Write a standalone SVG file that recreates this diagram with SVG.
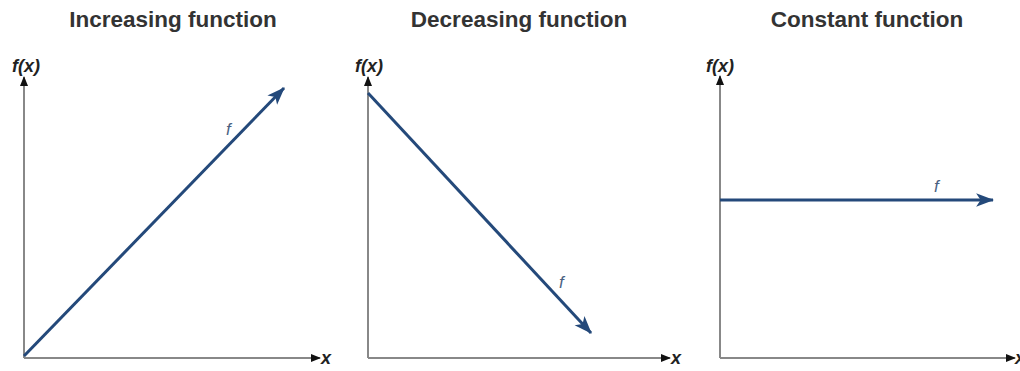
<svg xmlns="http://www.w3.org/2000/svg" width="1020" height="371" viewBox="0 0 1020 371">
<style>
.title{font-family:"Liberation Sans",Arial,sans-serif;font-weight:bold;font-size:22.5px;fill:#333;text-anchor:middle}
.fx{font-family:"Liberation Sans",Arial,sans-serif;font-weight:bold;font-style:italic;font-size:18px;fill:#222;text-anchor:middle}
.xl{font-family:"Liberation Sans",Arial,sans-serif;font-weight:bold;font-style:italic;font-size:18px;fill:#222}
.fl{font-family:"Liberation Sans",Arial,sans-serif;font-style:italic;font-size:17px;fill:#4a6282}
.axis{stroke:#888;stroke-width:2;fill:none}
.curve{stroke:#24497a;stroke-width:3;fill:none}
</style>
<defs>
<marker id="ah" viewBox="0 0 10 10" refX="9" refY="5" markerWidth="5.5" markerHeight="5" markerUnits="strokeWidth" orient="auto">
<path d="M0,1 L10,5 L0,9 Z" fill="#111"/>
</marker>
<marker id="ch" viewBox="0 0 16 12" refX="15" refY="6" markerWidth="6" markerHeight="4.8" markerUnits="strokeWidth" orient="auto">
<path d="M0,0 L16,6 L0,12 L4,6 Z" fill="#24497a"/>
</marker>
</defs>
<g id="panel-increasing">
<text class="title" x="173" y="27">Increasing function</text>
<text class="fx" x="26" y="72">f(x)</text>
<text class="xl" x="321" y="364">x</text>
</g>
<g id="panel-decreasing">
<text class="title" x="519" y="27">Decreasing function</text>
<text class="fx" x="369" y="72">f(x)</text>
<text class="xl" x="671" y="364">x</text>
</g>
<g id="panel-constant">
<text class="title" x="867" y="27">Constant function</text>
<text class="fx" x="720" y="72">f(x)</text>
<text class="xl" x="1015" y="364">x</text>
</g>
<g id="connectors">
<path class="axis" d="M24,358 L24,77" marker-end="url(#ah)"/>
<path class="axis" d="M24,358 L320,358" marker-end="url(#ah)"/>
<path class="axis" d="M368,358 L368,77" marker-end="url(#ah)"/>
<path class="axis" d="M368,358 L670,358" marker-end="url(#ah)"/>
<path class="axis" d="M720,358 L720,76" marker-end="url(#ah)"/>
<path class="axis" d="M720,358 L1015,358" marker-end="url(#ah)"/>
<path class="curve" d="M24,356 L284,88" marker-end="url(#ch)"/>
<path class="curve" d="M368,93 L591,333" marker-end="url(#ch)"/>
<path class="curve" d="M720,200 L993,200" marker-end="url(#ch)"/>
<text class="fl" x="226" y="135">f</text>
<text class="fl" x="559" y="288">f</text>
<text class="fl" x="934" y="192">f</text>
</g>
</svg>
